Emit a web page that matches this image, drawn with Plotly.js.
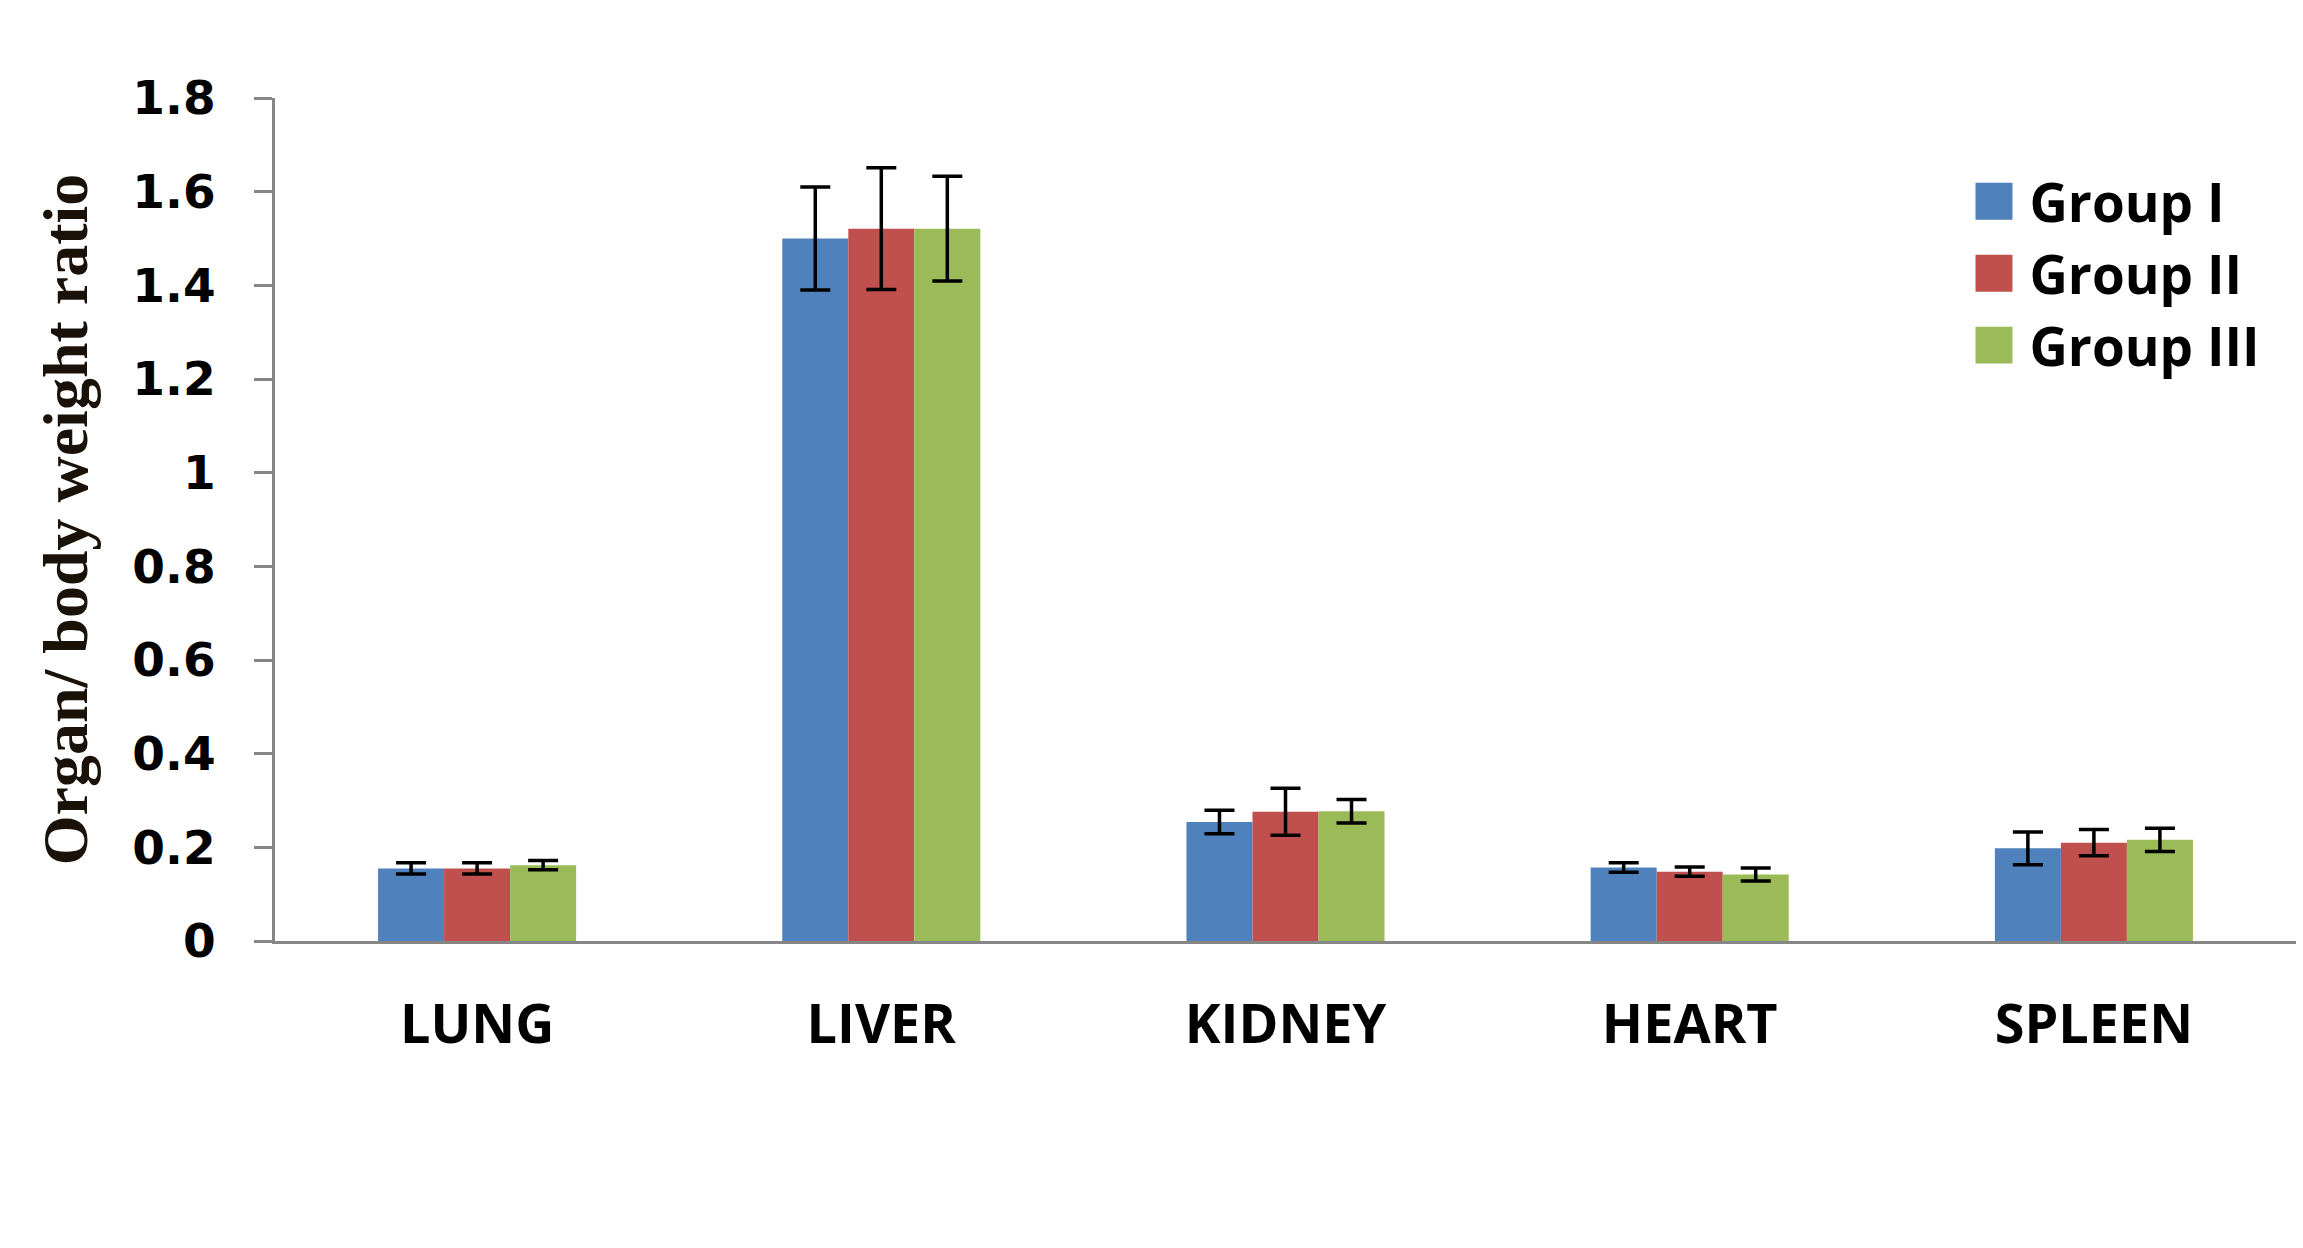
<!DOCTYPE html>
<html>
<head>
<meta charset="utf-8">
<script src="https://cdn.plot.ly/plotly-3.0.1.min.js"></script>
<style>
  html, body { margin: 0; padding: 0; background: #ffffff; }
  #chart { width: 2303px; height: 1248px; }
</style>
</head>
<body>
<div id="chart"></div>
<script>
const organs = ["LUNG", "LIVER", "KIDNEY", "HEART", "SPLEEN"];
const groupNames = ["Group I", "Group II", "Group III"];
const groupColors = ["#4F81BD", "#C0504D", "#9BBB59"];

const groupI   = [0.155, 1.500, 0.254, 0.157, 0.198];
const groupII  = [0.155, 1.521, 0.276, 0.148, 0.210];
const groupIII = [0.162, 1.521, 0.277, 0.142, 0.216];

const errI   = [0.012, 0.110, 0.025, 0.010, 0.035];
const errII  = [0.012, 0.130, 0.050, 0.010, 0.028];
const errIII = [0.010, 0.112, 0.025, 0.014, 0.025];

const yTickVals = [0, 0.2, 0.4, 0.6, 0.8, 1, 1.2, 1.4, 1.6, 1.8];
const yTickText = ["0", "0.2", "0.4", "0.6", "0.8", "1", "1.2", "1.4", "1.6", "1.8"];

const values = [groupI, groupII, groupIII];
const errors = [errI, errII, errIII];

const traces = groupNames.map((name, i) => ({
  type: "bar",
  name: name,
  x: organs,
  y: values[i],
  marker: { color: groupColors[i], line: { width: 0 } },
  error_y: {
    type: "data",
    array: errors[i],
    visible: true,
    color: "#000000",
    thickness: 3.5,
    width: 15
  }
}));

const layout = {
  width: 2303,
  height: 1248,
  paper_bgcolor: "#ffffff",
  plot_bgcolor: "#ffffff",
  margin: { l: 275, r: 7, t: 98, b: 307, autoexpand: false },
  barmode: "group",
  bargap: 0.51,
  bargroupgap: 0,
  showlegend: true,
  legend: {
    x: 0.833, xanchor: "left",
    y: 0.926, yanchor: "top",
    bgcolor: "rgba(0,0,0,0)",
    borderwidth: 0,
    itemwidth: 61,
    font: { family: "Open Sans, sans-serif", size: 53, color: "#000000", weight: "bold" }
  },
  xaxis: {
    type: "category",
    showline: true,
    linecolor: "#868686",
    linewidth: 3,
    ticks: "",
    showgrid: false,
    zeroline: false,
    ticklabelstandoff: 34,
    tickfont: { family: "Open Sans, sans-serif", size: 54, color: "#000000", weight: "bold" }
  },
  yaxis: {
    range: [0, 1.8],
    tickvals: yTickVals,
    ticktext: yTickText,
    showline: true,
    linecolor: "#868686",
    linewidth: 3,
    ticks: "outside",
    ticklen: 18,
    tickwidth: 3,
    tickcolor: "#868686",
    showgrid: false,
    zeroline: false,
    ticklabelstandoff: 29,
    tickfont: { family: "DejaVu Sans, sans-serif", size: 47, color: "#000000", weight: "bold" },
    title: {
      text: "Organ/ body weight ratio",
      standoff: 24,
      font: { family: "Liberation Serif, Times New Roman, serif", size: 64, color: "#1a1208", weight: "bold" }
    }
  }
};

Plotly.newPlot("chart", traces, layout, { displayModeBar: false, staticPlot: true }).then(() => {
  document.querySelectorAll(".legend .legendpoints path").forEach(p => {
    const t = p.getAttribute("transform") || "";
    p.setAttribute("transform", t + " scale(3.08)");
  });
});
</script>
</body>
</html>
